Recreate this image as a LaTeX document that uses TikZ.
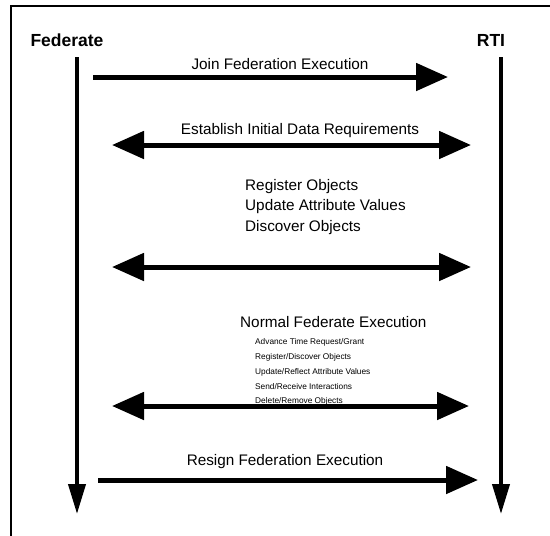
\documentclass[tikz,border=0pt]{standalone}
\usepackage{fontspec}
\setmainfont{Liberation Sans}
\usetikzlibrary{arrows.meta}
\begin{document}
\begin{tikzpicture}[x=1pt,y=-1pt,
  lifeline/.style={line width=4pt,-{Triangle[length=30pt,width=17pt]}},
  msg/.style={line width=5pt,-{Triangle[length=32pt,width=27pt]}},
  msgboth/.style={line width=5pt,{Triangle[length=32pt,width=27pt]}-{Triangle[length=32pt,width=27pt]}},
  actor/.style={font=\fontsize{17.5}{17.5}\selectfont\bfseries,inner sep=0pt},
  label/.style={font=\fontsize{15.3}{15.3}\selectfont,inner sep=0pt},
  sublabel/.style={font=\fontsize{8.3}{8.3}\selectfont,inner sep=0pt,anchor=west}]
\useasboundingbox (0,0) rectangle (550,536);
\fill[white] (0,0) rectangle (550,536);

% frame
\draw[line width=2pt] (11,536) -- (11,6) -- (550,6);

% participants
\node[actor] (fed) at (67,40) {Federate};
\node[actor] (rti) at (491,40) {RTI};

% lifelines
\coordinate (fedtop) at (77,57);
\coordinate (fedend) at (77,514);
\coordinate (rtitop) at (501,57);
\coordinate (rtiend) at (501,514);
\draw[lifeline] (fedtop) -- (fedend);
\draw[lifeline] (rtitop) -- (rtiend);

% join
\coordinate (j1) at (93,77);
\coordinate (j2) at (448,77);
\draw[msg] (j1) -- (j2);
\node[label] (join) at (280,64) {Join Federation Execution};

% initial data requirements
\coordinate (e1) at (112,145);
\coordinate (e2) at (471,145);
\draw[msgboth] (e1) -- (e2);
\node[label] (estab) at (300,131) {Establish Initial Data Requirements};

% objects
\node[label,anchor=west] (reg) at (245,187) {Register Objects};
\node[label,anchor=west] (upd) at (245,207) {Update Attribute Values};
\node[label,anchor=west] (disc) at (245,228) {Discover Objects};
\coordinate (o1) at (112,267);
\coordinate (o2) at (471,267);
\draw[msgboth] (o1) -- (o2);

% normal execution
\node[label,anchor=west] (norm) at (240,322) {Normal Federate Execution};
\node[sublabel] (s1) at (255,342) {Advance Time Request/Grant};
\node[sublabel] (s2) at (255,357) {Register/Discover Objects};
\node[sublabel] (s3) at (255,372) {Update/Reflect Attribute Values};
\node[sublabel] (s4) at (255,387) {Send/Receive Interactions};
\node[sublabel] (s5) at (255,401) {Delete/Remove Objects};
\coordinate (n1) at (112,406);
\coordinate (n2) at (469,406);
\draw[msgboth] (n1) -- (n2);

% resign
\coordinate (r1) at (98,480);
\coordinate (r2) at (478,480);
\draw[msg] (r1) -- (r2);
\node[label] (resign) at (285,462) {Resign Federation Execution};
\end{tikzpicture}
\end{document}
